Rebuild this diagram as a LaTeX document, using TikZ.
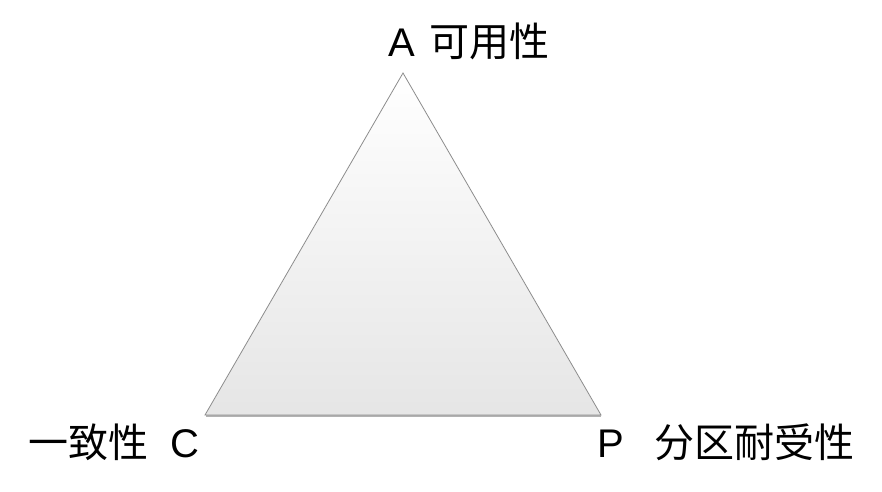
\documentclass[tikz,border=0pt]{standalone}
\usepackage{fontspec}
\setmainfont{Liberation Sans}
\newfontfamily\cjk{Noto Sans CJK SC}
\begin{document}
\begin{tikzpicture}[x=0.75pt,y=-0.75pt,
  lbl/.style={anchor=base west,inner sep=0pt,font=\fontsize{30}{36}\selectfont},
  tri/.style={draw=black!45,line width=0.6pt,line join=miter,top color=white,bottom color=black!10,shading angle=0}]
\useasboundingbox (0,0) rectangle (882,492);
\coordinate (A) at (403,73);
\coordinate (C) at (205,415);
\coordinate (P) at (601,415);
\draw[black!30,line width=1.5pt] ([xshift=1pt,yshift=-1pt]C) -- ([yshift=-1pt]P);
\path[tri] (A) -- (P) -- (C) -- cycle;
\node[lbl] (la) at (388,57) {A\hspace{11.2pt}{\cjk 可用性}};
\node[lbl] (lc) at (28,457) {{\cjk 一致性}\hspace{17pt}C};
\node[lbl] (lp) at (597,457) {P\hspace{23pt}{\cjk 分区耐受性}};
\end{tikzpicture}
\end{document}
